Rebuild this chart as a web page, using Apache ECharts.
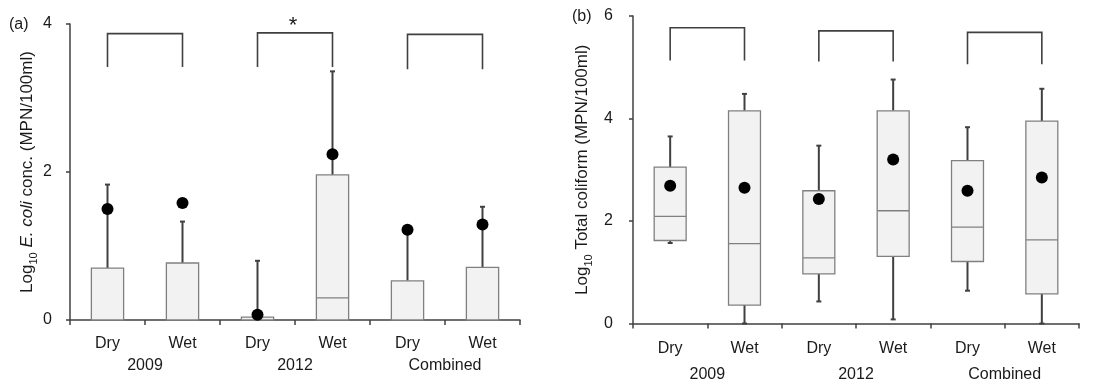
<!DOCTYPE html>
<html>
<head>
<meta charset="utf-8">
<script src="https://cdn.jsdelivr.net/npm/echarts@6/dist/echarts.min.js"></script>
<style>
html,body{margin:0;padding:0;background:#fff;}
#chart{width:1108px;height:387px;}
</style>
</head>
<body>
<div id="chart"></div>
<script>
// ---------- Data ----------
const categories = ['Dry', 'Wet', 'Dry', 'Wet', 'Dry', 'Wet'];
const groups = ['2009', '2012', 'Combined'];

// Panel (a): Log10 E. coli conc.
const ecoliMin = [0, 0, 0, 0, 0, 0];
const ecoliQ1 = [0, 0, 0, 0, 0, 0];
const ecoliMedian = [0, 0, 0, 0.30, 0, 0];
const ecoliQ3 = [0.70, 0.77, 0.04, 1.96, 0.53, 0.71];
const ecoliMax = [1.83, 1.33, 0.80, 3.36, 1.17, 1.53];
const ecoliMean = [1.50, 1.58, 0.07, 2.24, 1.22, 1.29];

// Panel (b): Log10 Total coliform
const tcMin = [1.57, 0, 0.43, 0.08, 0.64, 0];
const tcQ1 = [1.62, 0.36, 0.97, 1.31, 1.21, 0.58];
const tcMedian = [2.09, 1.56, 1.28, 2.20, 1.88, 1.63];
const tcQ3 = [3.05, 4.15, 2.59, 4.15, 3.18, 3.95];
const tcMax = [3.65, 4.48, 3.47, 4.76, 3.83, 4.58];
const tcMean = [2.69, 2.65, 2.43, 3.20, 2.59, 2.85];

// Comparison brackets (Dry vs Wet in each group)
const bracketFrom = [0, 2, 4];
const bracketTo = [1, 3, 5];
const bracketATop = [3.87, 3.88, 3.86];
const bracketAFoot = [3.42, 3.42, 3.39];
const bracketASig = ['', '*', ''];
const bracketBTop = [5.77, 5.71, 5.68];
const bracketBFoot = [5.13, 5.11, 5.06];
const bracketBSig = ['', '', ''];

// ---------- Helpers ----------
const FONT = 'Liberation Sans, Arial, Helvetica, sans-serif';
const AXIS_COLOR = '#404040';
const TEXT_COLOR = '#1a1a1a';
const WHISKER_COLOR = '#404040';
const BOX_FILL = '#f2f2f2';
const BOX_STROKE = '#808080';

function boxData(mn, q1, med, q3, mx) {
  return categories.map((c, i) => [i, mn[i], q1[i], med[i], q3[i], mx[i]]);
}

function renderBox(params, api) {
  const i = api.value(0);
  const mn = api.value(1), q1 = api.value(2), med = api.value(3), q3 = api.value(4), mx = api.value(5);
  const bw = api.size([1, 0])[0] * 0.43;
  const pMin = api.coord([i, mn]);
  const pQ1 = api.coord([i, q1]);
  const pMed = api.coord([i, med]);
  const pQ3 = api.coord([i, q3]);
  const pMax = api.coord([i, mx]);
  const cx = pQ1[0];
  const cap = 2.5;
  const children = [];
  const wStyle = { stroke: WHISKER_COLOR, lineWidth: 2 };
  if (mx > q3) {
    children.push({ type: 'line', shape: { x1: cx, y1: pQ3[1], x2: cx, y2: pMax[1] }, style: wStyle });
    children.push({ type: 'line', shape: { x1: cx - cap, y1: pMax[1], x2: cx + cap, y2: pMax[1] }, style: wStyle });
  }
  if (mn < q1) {
    children.push({ type: 'line', shape: { x1: cx, y1: pQ1[1], x2: cx, y2: pMin[1] }, style: wStyle });
    children.push({ type: 'line', shape: { x1: cx - cap, y1: pMin[1], x2: cx + cap, y2: pMin[1] }, style: wStyle });
  }
  children.push({
    type: 'rect',
    shape: { x: cx - bw / 2, y: pQ3[1], width: bw, height: pQ1[1] - pQ3[1] },
    style: { fill: BOX_FILL, stroke: BOX_STROKE, lineWidth: 1.3 }
  });
  if (med > q1) {
    children.push({ type: 'line', shape: { x1: cx - bw / 2, y1: pMed[1], x2: cx + bw / 2, y2: pMed[1] },
      style: { stroke: BOX_STROKE, lineWidth: 1.3 } });
  }
  return { type: 'group', children: children };
}

function bracketData(top, foot) {
  return groups.map((g, k) => [bracketFrom[k], bracketTo[k], top[k], foot[k]]);
}

function makeBracketRenderer(sig) {
  return function (params, api) {
    const a = api.value(0), b = api.value(1), top = api.value(2), foot = api.value(3);
    const p1 = api.coord([a, foot]);
    const p2 = api.coord([a, top]);
    const p3 = api.coord([b, top]);
    const p4 = api.coord([b, foot]);
    const children = [{
      type: 'polyline',
      shape: { points: [p1, p2, p3, p4] },
      style: { stroke: '#404040', lineWidth: 1.6, fill: null }
    }];
    const s = sig[params.dataIndex];
    if (s) {
      children.push({
        type: 'text',
        style: { text: s, x: (p2[0] + p3[0]) / 2 - 2, y: p2[1] - 7, align: 'center', verticalAlign: 'middle',
          font: '22px ' + FONT, fill: '#1a1a1a' }
      });
    }
    return { type: 'group', children: children };
  };
}

function yAxisCommon(max, nameText, nameGap, labelMargin, grid) {
  return {
    type: 'value', gridIndex: grid, min: 0, max: max, interval: 2,
    axisLine: { show: true, lineStyle: { color: AXIS_COLOR, width: 1.5 } },
    axisTick: { show: true, length: 4, lineStyle: { color: AXIS_COLOR, width: 1.5 } },
    splitLine: { show: false },
    axisLabel: { color: TEXT_COLOR, fontSize: 16, fontFamily: FONT, margin: labelMargin },
    name: nameText, nameLocation: 'middle', nameGap: nameGap, nameRotate: 90,
    nameTextStyle: {
      color: TEXT_COLOR, fontSize: 17, fontFamily: FONT,
      rich: {
        n: { fontSize: 17, fontFamily: FONT, color: TEXT_COLOR },
        s: { fontSize: 11, fontFamily: FONT, color: TEXT_COLOR, verticalAlign: 'bottom', lineHeight: 23 },
        i: { fontSize: 17, fontFamily: FONT, color: TEXT_COLOR, fontStyle: 'italic' }
      }
    }
  };
}

function xAxisCat(grid, labelMargin) {
  return {
    type: 'category', gridIndex: grid, data: categories, boundaryGap: true,
    axisLine: { show: true, lineStyle: { color: AXIS_COLOR, width: 1.5 } },
    axisTick: { show: true, length: 5, alignWithLabel: false, lineStyle: { color: AXIS_COLOR, width: 1.5 } },
    axisLabel: { color: TEXT_COLOR, fontSize: 16, fontFamily: FONT, margin: labelMargin },
    splitLine: { show: false }
  };
}

function xAxisGroup(grid, labelMargin) {
  return {
    type: 'category', gridIndex: grid, data: groups, boundaryGap: true, position: 'bottom',
    axisLine: { show: false }, axisTick: { show: false }, splitLine: { show: false },
    axisLabel: { color: TEXT_COLOR, fontSize: 16, fontFamily: FONT, margin: labelMargin }
  };
}

const chart = echarts.init(document.getElementById('chart'), null, { renderer: 'canvas' });

const option = {
  backgroundColor: '#ffffff',
  animation: false,
  grid: [
    { left: 70, top: 24, width: 450, height: 296 },
    { left: 633, top: 16, width: 446, height: 307.5 }
  ],
  xAxis: [
    xAxisCat(0, 16),
    xAxisGroup(0, 38),
    xAxisCat(1, 17),
    xAxisGroup(1, 43)
  ],
  yAxis: [
    yAxisCommon(4, '{n|Log}{s|10}{n| }{i|E. coli}{n| conc. (MPN/100ml)}', 31, 18, 0),
    yAxisCommon(6, '{n|Log}{s|10}{n| Total coliform (MPN/100ml)}', 39, 20, 1)
  ],
  series: [
    {
      type: 'custom', xAxisIndex: 0, yAxisIndex: 0,
      data: boxData(ecoliMin, ecoliQ1, ecoliMedian, ecoliQ3, ecoliMax),
      encode: { x: 0, y: [1, 2, 3, 4, 5] },
      renderItem: renderBox, z: 2
    },
    {
      type: 'scatter', xAxisIndex: 0, yAxisIndex: 0,
      data: ecoliMean.map((v, i) => [i, v]),
      symbol: 'circle', symbolSize: 12,
      itemStyle: { color: '#000000', opacity: 1 }, z: 5
    },
    {
      type: 'custom', xAxisIndex: 0, yAxisIndex: 0,
      data: bracketData(bracketATop, bracketAFoot),
      encode: { x: [0, 1], y: [2, 3] },
      renderItem: makeBracketRenderer(bracketASig), z: 3
    },
    {
      type: 'custom', xAxisIndex: 2, yAxisIndex: 1,
      data: boxData(tcMin, tcQ1, tcMedian, tcQ3, tcMax),
      encode: { x: 0, y: [1, 2, 3, 4, 5] },
      renderItem: renderBox, z: 2
    },
    {
      type: 'scatter', xAxisIndex: 2, yAxisIndex: 1,
      data: tcMean.map((v, i) => [i, v]),
      symbol: 'circle', symbolSize: 12,
      itemStyle: { color: '#000000', opacity: 1 }, z: 5
    },
    {
      type: 'custom', xAxisIndex: 2, yAxisIndex: 1,
      data: bracketData(bracketBTop, bracketBFoot),
      encode: { x: [0, 1], y: [2, 3] },
      renderItem: makeBracketRenderer(bracketBSig), z: 3
    }
  ],
  graphic: [
    { type: 'text', left: 9, top: 17, style: { text: '(a)', font: '16px ' + FONT, fill: TEXT_COLOR } },
    { type: 'text', left: 572, top: 9, style: { text: '(b)', font: '16px ' + FONT, fill: TEXT_COLOR } }
  ]
};

chart.setOption(option);
</script>
</body>
</html>
